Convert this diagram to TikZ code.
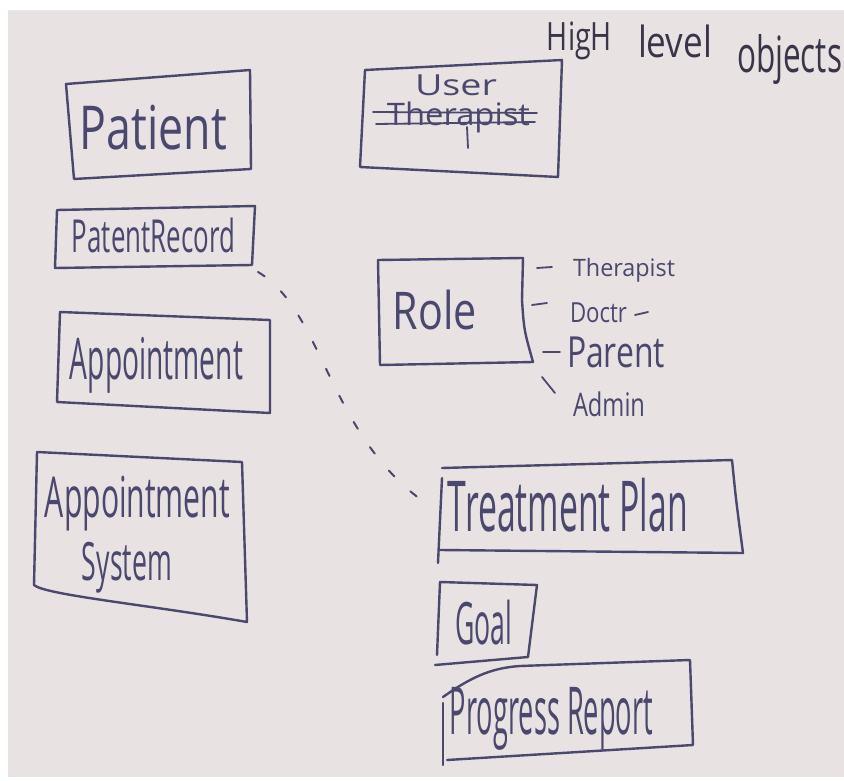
\documentclass[tikz,border=0pt]{standalone}
\usepackage{fontspec}
\setmainfont{Open Sans}
\usepackage{graphicx}
\definecolor{board}{RGB}{232,226,227}
\definecolor{ink}{RGB}{74,72,108}
\definecolor{darkink}{RGB}{56,53,72}
% text squeezed into a given width and total height (pt)
\newcommand{\hand}[3]{\resizebox*{#1pt}{#2pt}{#3}}

\begin{document}
\begin{tikzpicture}[x=1pt,y=-1pt,
  stroke/.style={draw=ink, line width=2.4pt, line cap=round, line join=round},
  thin stroke/.style={draw=ink, line width=1.8pt, line cap=round},
  handtext/.style={inner sep=0pt, text=ink},
  titletext/.style={inner sep=0pt, text=darkink},
  link/.style={draw=ink, line width=2pt, line cap=round, dash pattern=on 8pt off 22pt}]
\useasboundingbox (0,0) rectangle (844,781);
\fill[white] (0,0) rectangle (844,781);
\fill[board] (8,10) rectangle (844,777);

% heading
\node[titletext] (hhigh)  at (579.5,41)   {\hand{65}{38}{HigH}};
\node[titletext] (hlevel) at (675,41.5)   {\hand{74}{33}{level}};
\node[titletext] (hobj)   at (789.5,60)   {\hand{105}{50}{objects}};

% left column
\node[handtext] (patient) at (153.5,127.5) {\hand{147}{45}{Patient}};
\draw[stroke] (66,84) -- (250,70) -- (251,169) -- (74,179) -- cycle;

\node[handtext] (record) at (153.5,235.5) {\hand{163}{35}{PatentRecord}};
\draw[stroke] (57,210) -- (255,206) -- (252,265) -- (55,268) -- cycle;

\node[handtext] (appt) at (156.5,365) {\hand{173}{56}{Appointment}};
\draw[stroke] (60,312) -- (270,320) -- (270,413) -- (57,402) -- cycle;

\node[handtext] (apsys1) at (137.5,503.5) {\hand{185}{55}{Appointment}};
\node[handtext] (apsys2) at (127,567.5)   {\hand{90}{51}{System}};
\draw[stroke] (37,452) -- (242,462) -- (247,622) .. controls (150,605) and (45,595) .. (34,585) -- cycle;

% user box with the crossed-out word
\node[handtext] (user) at (456,85) {\hand{82}{21}{User}};
\node[handtext] (oldname) at (458.5,117) {\hand{143}{31}{Therapist}};
\draw[thin stroke] (373,112) -- (537,113);
\draw[thin stroke] (376,124) -- (535,122);
\draw[thin stroke] (467,127) -- (468,148);
\draw[stroke] (365,70) -- (562,60) -- (558,177) -- (360,167) -- cycle;

% role box and its kinds
\node[handtext] (role) at (435,310) {\hand{84}{40}{Role}};
\draw[stroke] (378,260) -- (523,258) -- (522,300) .. controls (524,330) .. (533,362) -- (380,365) -- cycle;

\node[handtext] (rtherapist) at (624,270)   {\hand{102}{24}{Therapist}};
\node[handtext] (rdoctor)    at (598.5,313) {\hand{57}{20}{Doctr}};
\node[handtext] (rparent)    at (616,352.5) {\hand{98}{31}{Parent}};
\node[handtext] (radmin)     at (609,404.5) {\hand{72}{25}{Admin}};
\draw[thin stroke] (537,268) -- (552,267);
\draw[thin stroke] (532,305) -- (547,303);
\draw[thin stroke] (635,315) -- (648,312);
\draw[thin stroke] (543,352) -- (560,352);
\draw[thin stroke] (542,377) -- (555,393);

% treatment side
\node[handtext] (plan) at (568,505) {\hand{240}{54}{Treatment Plan}};
\draw[stroke] (442,468) -- (732,460) .. controls (736,500) .. (743,553) -- (440,550);
\draw[stroke] (442,478) -- (438,563);

\node[handtext] (goal) at (483.5,622.5) {\hand{57}{45}{Goal}};
\draw[stroke] (440,582) -- (537,585) -- (528,657) -- (435,665);
\draw[stroke] (440,582) -- (437,655);

\node[handtext] (report) at (551.5,718.5) {\hand{203}{63}{Progress Report}};
\draw[stroke] (443,697) .. controls (470,678) and (490,668) .. (520,666) -- (690,660) -- (693,745) -- (447,760);
\draw[stroke] (443,703) -- (443,765);

% dashed link from the record to the plan
\coordinate (recordtail) at (258,272);
\coordinate (planhead) at (420,499);
\draw[link] (recordtail) .. controls (322,310) and (328,430) .. (planhead);
\end{tikzpicture}
\end{document}
